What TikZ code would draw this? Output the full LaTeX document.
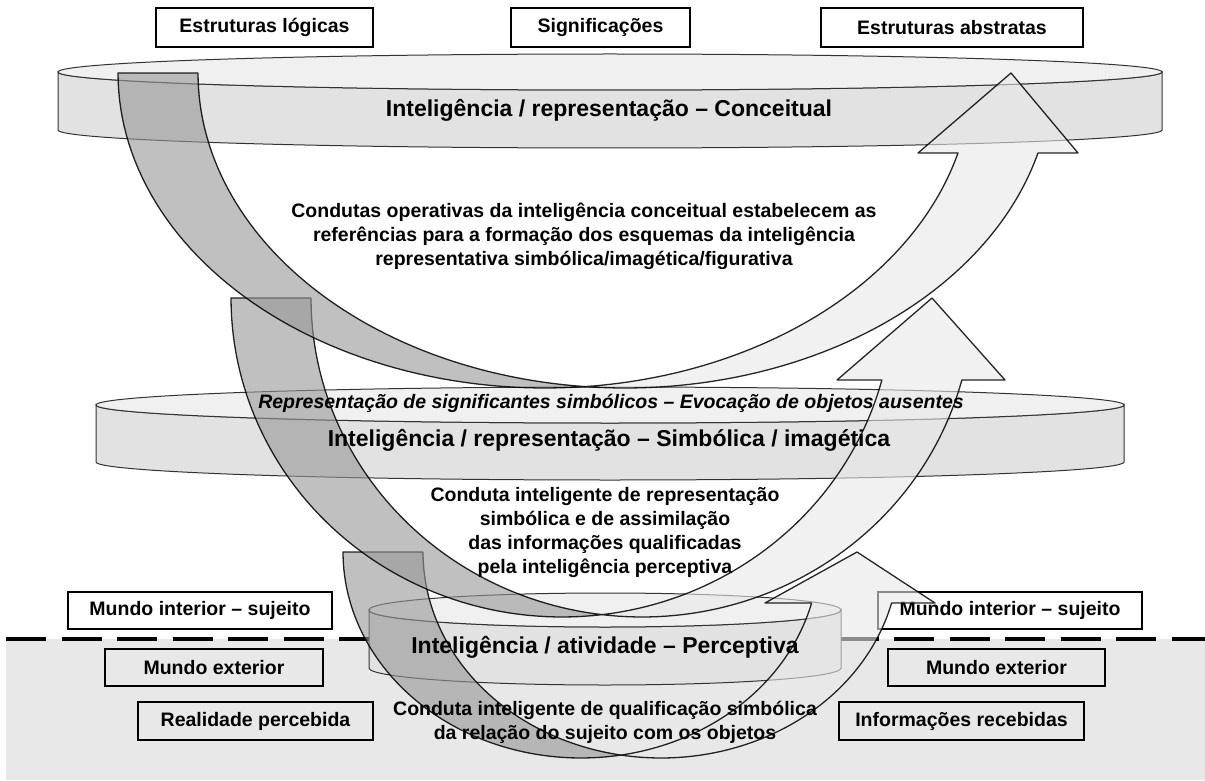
\documentclass[tikz,border=0pt]{standalone}
\usepackage{fontspec}
\setmainfont{Liberation Sans}
\usetikzlibrary{calc}
\newcommand{\bandWidth}{80}
\newcommand{\lineWidth}{1.3pt}
\newcommand{\bigFont}{\bfseries\fontsize{23}{27}\selectfont}
\newcommand{\midFont}{\bfseries\fontsize{19.5}{24}\selectfont}
\definecolor{lineColor}{RGB}{0, 0, 0}
\definecolor{diskTop}{RGB}{240,240,240}
\definecolor{diskSide}{RGB}{226,226,226}
\definecolor{bandDark}{RGB}{150,150,150}
\definecolor{bandLight}{RGB}{232,232,232}
\definecolor{groundGray}{RGB}{232,232,232}
\tikzstyle{panel}=[draw=none, inner sep=0, outer sep=0]
\tikzstyle{labelBox}=[panel, draw=lineColor, line width=1.2pt, fill=white, font=\midFont]
\tikzstyle{groundBox}=[labelBox, fill=none]
\tikzstyle{disk}=[draw=lineColor!80, line width=1pt]
\tikzstyle{band}=[draw=lineColor, line width=\lineWidth, fill opacity=0.6, draw opacity=0.85, line join=round]
\tikzstyle{textNode}=[panel, align=center, text=lineColor]
\tikzstyle{dashLine}=[draw=lineColor, line width=4pt, dash pattern=on 40pt off 15.5pt]

\begin{document}
\begin{tikzpicture}[x=1pt, y=-1pt]

% Frame
\useasboundingbox (0,0) rectangle (1205,781);

% Ground (mundo exterior)
\node[panel, fill=groundGray, minimum width=1199, minimum height=141, anchor=north west] (ground) at (6,639) {};
\draw[dashLine] (ground.north west) -- (ground.north east);

% Top labels
\node[labelBox, minimum width=217, minimum height=39] (logicas) at (264.5,27.5) {Estruturas lógicas};
\node[labelBox, minimum width=179, minimum height=39] (signif) at (600.5,27.5) {Significações};
\node[labelBox, minimum width=262, minimum height=39] (abstratas) at (952,27.5) {Estruturas abstratas};

% Side labels
\node[labelBox, minimum width=264, minimum height=37] (interiorL) at (200,610.5) {Mundo interior – sujeito};
\node[groundBox, minimum width=218, minimum height=37] (exteriorL) at (214,667.5) {Mundo exterior};
\node[groundBox, minimum width=235, minimum height=38] (realidade) at (255.5,721) {Realidade percebida};
\node[labelBox, minimum width=264, minimum height=37] (interiorR) at (1010,610.5) {Mundo interior – sujeito};
\node[groundBox, minimum width=217, minimum height=37] (exteriorR) at (996.5,667.5) {Mundo exterior};
\node[groundBox, minimum width=245, minimum height=38] (informacoes) at (961.5,721) {Informações recebidas};

% Disks
\foreach \cx/\cy/\rx/\ry/\dh in {610/72/552/18/58, 610/405/514/18/57, 605/610/236/17/58} {
  \draw[disk, fill=diskSide] (\cx-\rx,\cy) -- ++(0,\dh)
    arc[start angle=180, end angle=0, x radius=\rx, y radius=\ry] -- ++(0,-\dh)
    arc[start angle=0, end angle=180, x radius=\rx, y radius=\ry] -- cycle;
  \draw[disk, fill=diskTop] (\cx,\cy) ellipse[x radius=\rx, y radius=\ry];
}

% Curved arrows
\foreach \yT/\cx/\wR/\hU/\ah/\bL/\bR/\tipX in {552/581/238/206/51/765/935/857, 298/562/331/319/82/837/1005/932, 73/545/427/315/80/918/1078/1011} {
  \pgfmathsetmacro{\tBot}{acos(\bandWidth/2/\wR)}
  \pgfmathsetmacro{\tMid}{180-\tBot}
  \pgfmathsetmacro{\tTop}{asin(\ah/\hU)}
  \pgfmathsetmacro{\cxB}{\cx+\bandWidth}
  \draw[band, fill=bandDark]
    plot[domain=180:\tBot, samples=60, variable=\ang] ({\cx+\wR*cos(\ang)},{\yT+\hU*sin(\ang)})
    -- plot[domain=\tMid:180, samples=60, variable=\ang] ({\cxB+\wR*cos(\ang)},{\yT+\hU*sin(\ang)}) -- cycle;
  \draw[band, fill=bandLight]
    plot[domain=\tMid:\tTop, samples=60, variable=\ang] ({\cxB+\wR*cos(\ang)},{\yT+\hU*sin(\ang)})
    -- (\bR,{\yT+\ah}) -- (\tipX,\yT) -- (\bL,{\yT+\ah})
    -- plot[domain=\tTop:\tBot, samples=60, variable=\ang] ({\cx+\wR*cos(\ang)},{\yT+\hU*sin(\ang)}) -- cycle;
}

% Texts
\node[textNode, font=\bigFont] (concLabel) at (609,110) {Inteligência / representação – Conceitual};
\node[textNode, font=\midFont] (concText) at (584,236) {Condutas operativas da inteligência conceitual estabelecem as\\referências para a formação dos esquemas da inteligência\\representativa simbólica/imagética/figurativa};
\node[textNode, font=\midFont\itshape] (simbTop) at (611,403) {Representação de significantes simbólicos – Evocação de objetos ausentes};
\node[textNode, font=\bigFont] (simbLabel) at (609,440) {Inteligência / representação – Simbólica / imagética};
\node[textNode, font=\midFont] (simbText) at (605,532) {Conduta inteligente de representação\\simbólica e de assimilação\\das informações qualificadas\\pela inteligência perceptiva};
\node[textNode, font=\bigFont] (percLabel) at (605,647) {Inteligência / atividade – Perceptiva};
\node[textNode, font=\midFont] (percText) at (605,722) {Conduta inteligente de qualificação simbólica\\da relação do sujeito com os objetos};

\end{tikzpicture}
\end{document}
